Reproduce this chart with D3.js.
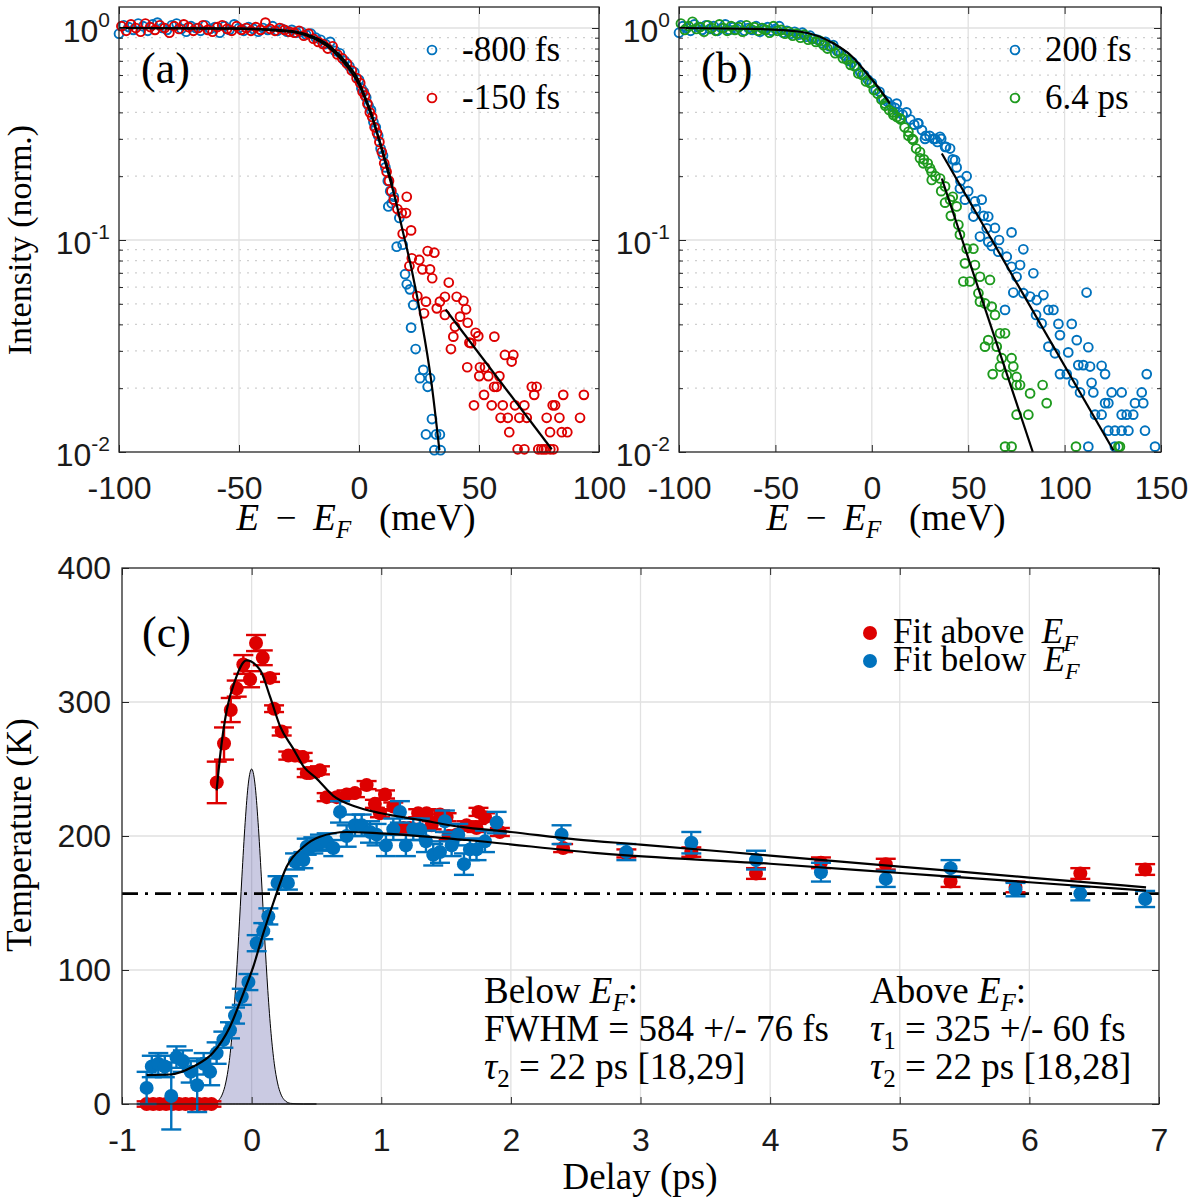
<!DOCTYPE html>
<html>
<head>
<meta charset="utf-8">
<script src="https://cdn.jsdelivr.net/npm/d3@7"></script>
<style>
  body { margin: 0; background: #fff; }
</style>
</head>
<body>
<script>
// ---------- panel (a): E - EF (meV), intensity (norm.) ----------
var a800 = [[-100,0.94],[-98,1.03],[-96,1.01],[-94,0.98],[-92,1.05],[-90,1.02],[-88,0.97],[-86,1.04],[-84,1.06],[-82,1.00],
  [-80,0.98],[-78,1.03],[-76,1.05],[-74,0.99],[-72,0.96],[-70,1.02],[-68,1.00],[-66,0.97],[-64,1.03],[-62,0.99],
  [-60,1.01],[-58,0.95],[-56,1.02],[-54,0.98],[-52,1.04],[-50,1.00],[-48,0.97],[-46,1.01],[-44,0.99],[-42,0.96],
  [-40,1.00],[-38,0.98],[-36,1.02],[-34,0.97],[-32,0.99],[-30,0.96],[-28,0.98],[-26,0.95],[-24,0.96],[-22,0.93],
  [-20,0.94],[-18,0.90],[-16,0.88],[-14,0.84],[-12,0.86],[-10,0.78],[-8,0.76],[-6,0.70],[-4,0.66],[-2,0.62],
  [0,0.57],[1,0.52],[2,0.50],[3,0.47],[4,0.43],[5,0.41],[6,0.36],[7,0.34],[8,0.31],[9,0.27],[10,0.25],[11,0.22],
  [12,0.19],[13,0.17],[14.5,0.16],[12.2,0.144],[13.6,0.149],[16.8,0.127],[15.7,0.093],[18.2,0.095],[19.2,0.069],
  [19.9,0.0618],[21.2,0.0585],[22.6,0.0494],[21.7,0.0386],[23.6,0.0306],[25.4,0.0223],[26.8,0.0244],[29.6,0.0223],
  [28.6,0.0203],[30.4,0.0143],[27.9,0.0121],[32.1,0.0121],[33.7,0.0121],[31.4,0.0102],[34,0.0102]];
var a150 = [[-99,1.02],[-97,0.97],[-95,1.04],[-93,1.00],[-91,0.96],[-89,1.05],[-87,1.01],[-85,0.98],[-83,1.03],[-81,1.00],
  [-79,0.95],[-77,1.02],[-75,0.99],[-73,1.04],[-71,1.01],[-69,0.97],[-67,1.00],[-65,1.03],[-63,0.98],[-61,0.96],
  [-59,1.01],[-57,1.03],[-55,0.99],[-53,0.97],[-51,1.02],[-49,0.98],[-47,1.00],[-45,0.97],[-43,1.01],[-41,0.98],
  [-39,1.06],[-37,0.99],[-35,0.97],[-33,1.00],[-31,0.98],[-29,0.96],[-27,0.95],[-25,0.97],[-23,0.92],[-21,0.94],
  [-19,0.89],[-17,0.86],[-15,0.84],[-13,0.80],[-11,0.82],[-9,0.75],[-7,0.72],[-5,0.68],[-3,0.63],[-1,0.58],
  [0.5,0.55],[1.5,0.50],[2.5,0.48],[3.5,0.44],[4.5,0.40],[5.5,0.38],[6.5,0.34],[7.5,0.32],[8.5,0.29],[9.5,0.26],
  [10.5,0.23],[11.5,0.21],[12.5,0.19],[13.5,0.17],[14.5,0.155],[16,0.14],
  [19.9,0.16],[17.8,0.134],[19.6,0.134],[21.7,0.111],[18.2,0.107],[28.6,0.0887],[31.4,0.0871],[22,0.082],[25.1,0.0805],
  [21,0.0754],[26.4,0.0727],[29.6,0.0727],[30.5,0.066],[37.4,0.063],[24.3,0.0544],[27.9,0.0512],[27.1,0.0451],
  [35.8,0.054],[40.7,0.054],[43.5,0.0517],[33.7,0.0512],[32.4,0.0476],[35.8,0.0443],[44.6,0.0471],[42.1,0.0435],
  [45.3,0.0407],[40,0.039],[48.6,0.0365],[49.7,0.0352],[46,0.0328],[46.7,0.0326],[56.4,0.035],[39.3,0.035],[38.3,0.0306],
  [60.8,0.0287],[64.3,0.0287],[63.6,0.0267],[45.1,0.0251],[50.4,0.0251],[52.5,0.0251],[50.1,0.0228],[53.9,0.0228],
  [58.5,0.0228],[56.3,0.0203],[57.4,0.0203],[72,0.0203],[74,0.0203],[73,0.0186],[52.1,0.0186],[85.1,0.0186],[93.7,0.0186],
  [47.9,0.0166],[55.3,0.0166],[59.9,0.0166],[65,0.0166],[68.9,0.0166],[80.7,0.0166],[81.7,0.0166],
  [59,0.0145],[62,0.0145],[66.8,0.0145],[69.9,0.0145],[78.2,0.0145],[83.5,0.0145],[92.1,0.0145],
  [62.6,0.0124],[79.6,0.0124],[84.5,0.0124],[86.8,0.0124],
  [66.1,0.0103],[68.9,0.0103],[74.7,0.0103],[76,0.0103],[77,0.0103],[78,0.0103],[79.7,0.0103],[81,0.0103]];
var fitA800 = [[-100,1.0],[-50,0.995],[-33,0.978],[-25,0.955],[-19,0.91],[-12,0.82],[-5,0.68],[0,0.56],[2,0.49],[5,0.40],
  [8.7,0.286],[12,0.21],[15,0.158],[18,0.113],[22,0.072],[26,0.042],[30,0.022],[33.5,0.0102]];
var fitA150 = [[-100,1.0],[-50,0.992],[-33,0.97],[-25,0.945],[-19,0.895],[-12,0.80],[-5,0.66],[0,0.54],[5,0.39],[10,0.26],[14,0.18]];
var fitA150tail = [[36.1,0.047],[80.3,0.0103]];

// ---------- panel (b) ----------
var b200 = [[-100,0.95],[-98,1.02],[-96,1.00],[-94,0.97],[-92,1.04],[-90,1.01],[-88,0.98],[-86,1.03],[-84,0.99],[-82,1.02],
  [-80,0.97],[-78,1.00],[-76,1.04],[-74,0.98],[-72,1.01],[-70,0.99],[-68,1.03],[-66,0.97],[-64,1.00],[-62,0.98],
  [-60,1.02],[-58,0.96],[-56,0.99],[-54,1.01],[-52,0.97],[-50,0.99],[-48,1.02],[-46,0.95],[-44,0.97],[-42,0.94],
  [-40,0.96],[-38,0.93],[-36,0.95],[-34,0.91],[-32,0.92],[-30,0.89],[-28,0.88],[-26,0.85],[-24,0.86],[-22,0.82],
  [-20,0.83],[-18,0.78],[-16,0.76],[-14,0.74],[-12,0.70],[-10,0.69],[-8,0.66],[-6,0.62],[-4,0.60],[-2,0.57],
  [0,0.55],[2,0.51],[4,0.50],[6,0.46],[8,0.45],[10,0.43],[12,0.42],[14,0.40],[16,0.39],[18,0.40],[20,0.37],[22,0.35],
  [24,0.355],[26,0.33],[28,0.31],[30,0.31],[32,0.30],[34,0.29],[36,0.30],[38,0.275],
  [12.9,0.44],[24.1,0.355],[27.6,0.30],[32.8,0.30],[35.4,0.307],[38.5,0.275],[40.6,0.27],[43.2,0.238],[49.2,0.20],
  [42,0.24],[44,0.22],[46,0.19],[50,0.17],[54,0.14],[58,0.13],[66,0.10],
  [45.7,0.175],[48.3,0.155],[53.5,0.152],[57,0.155],[52.7,0.129],[60.4,0.129],[59.6,0.1135],[63.9,0.114],[72.5,0.1086],
  [56.1,0.1038],[60.4,0.098],[62.2,0.0937],[65.6,0.088],[70,0.0834],[78.6,0.0904],[72.5,0.0748],[76.9,0.0762],[83.8,0.0697],
  [75.1,0.0671],[73.4,0.0565],[78.6,0.0561],[82.1,0.0541],[89,0.055],[111.4,0.0565],[69.1,0.0468],[85.5,0.0521],[91.6,0.0468],
  [94.2,0.0468],[85.2,0.0443],[88.1,0.0404],[96.8,0.0402],[103.7,0.0402],[97.6,0.0356],[106.3,0.0337],[91.6,0.0314],
  [95,0.0292],[101.9,0.0295],[112.3,0.0312],[107.1,0.0257],[109.7,0.0257],[113.2,0.0253],[119.2,0.0255],[97.6,0.0233],
  [101.1,0.0233],[121,0.0233],[142.6,0.0233],[104.5,0.0212],[114,0.0212],[108,0.0191],[114.9,0.0191],[124.4,0.0191],
  [129.6,0.0191],[140,0.0191],[121,0.017],[122.7,0.017],[136.5,0.017],[140.8,0.017],[119.2,0.015],[129.6,0.015],
  [132.2,0.015],[135.6,0.015],[115.8,0.015],[122.7,0.0126],[126.1,0.0126],[129.6,0.0126],[133.1,0.0126],[141.7,0.0126],
  [112.3,0.0106],[146.9,0.0106],[126.1,0.0106]];
var b6400 = [[-99,1.05],[-97,0.98],[-95,1.02],[-93,1.07],[-91,0.99],[-89,1.01],[-87,0.96],[-85,1.03],[-83,1.00],[-81,0.97],
  [-79,1.04],[-77,1.00],[-75,0.97],[-73,1.02],[-71,0.98],[-69,1.01],[-67,0.96],[-65,1.03],[-63,0.99],[-61,1.01],
  [-59,0.97],[-57,1.00],[-55,0.98],[-53,0.95],[-51,1.02],[-49,0.97],[-47,0.98],[-45,0.94],[-43,0.96],[-41,0.92],
  [-39,0.94],[-37,0.90],[-35,0.93],[-33,0.88],[-31,0.89],[-29,0.86],[-27,0.87],[-25,0.83],[-23,0.80],[-21,0.82],
  [-19,0.76],[-17,0.77],[-15,0.72],[-13,0.71],[-11,0.67],[-9,0.66],[-7,0.61],[-5,0.60],[-3,0.56],[-1,0.55],
  [1,0.51],[3,0.49],[5,0.46],[7,0.43],[9,0.41],[11,0.40],[13,0.38],[15,0.37],[17,0.34],[19,0.31],[21,0.30],
  [23,0.27],[25,0.26],[27,0.24],[29,0.23],[31,0.21],[33,0.20],
  [6.8,0.44],[11.2,0.389],[14.6,0.375],[19,0.324],[21.5,0.296],[25,0.243],[26.7,0.23],[30.2,0.218],[31.1,0.192],
  [35.4,0.195],[38,0.179],[36,0.17],[38,0.15],[41,0.13],[42,0.16],[40.6,0.155],[44,0.144],[44.9,0.118],[45.7,0.106],
  [49.2,0.091],[52.7,0.091],[48.3,0.0776],[53.5,0.0762],[47.5,0.0637],[50.9,0.0637],[56.1,0.0671],[61.3,0.0648],
  [55.3,0.0561],[56.1,0.0512],[58.7,0.0502],[62.2,0.0485],[63.9,0.0443],[66.5,0.0363],[69.1,0.0363],[60.4,0.0337],
  [58.7,0.0314],[64.8,0.0314],[67.4,0.0277],[72.5,0.0277],[66.5,0.0253],[73.4,0.0253],[62.7,0.0233],[70,0.0231],
  [75.1,0.0226],[75.1,0.0207],[76.9,0.0207],[88.6,0.0207],[82.1,0.0189],[90.7,0.017],[75.1,0.015],[81.2,0.015],
  [69.1,0.0106],[72.5,0.0106],[105.9,0.0106],[127.9,0.0106],[128.7,0.0106]];
var fitB = [[-100,1.0],[-60,0.99],[-37,0.96],[-20,0.847],[-10,0.73],[-2.6,0.61],[3,0.53],[9.4,0.44]];
var fitB200tail = [[36.3,0.256],[125.3,0.0102]];
var fitB6400tail = [[36.3,0.195],[83.5,0.01]];

// ---------- panel (c): delay (ps), temperature (K), error (K) ----------
var above = [[-0.81,0,2],[-0.76,0,2],[-0.71,0,2],[-0.66,0,2],[-0.61,0,2],[-0.56,0,2],[-0.51,0,2],[-0.46,0,2],[-0.41,0,2],
  [-0.36,0,2],[-0.31,0,2],
  [-0.269,240,15.5],[-0.213,269,12],[-0.161,294,9],[-0.115,310,6],[-0.064,328,7],[-0.012,317,6],[0.034,344,6],[0.086,333,5.5],
  [0.142,318,3],[0.173,295,2.5],[0.232,278,3],[0.283,260,3],[0.335,260,3],[0.394,259,3],[0.425,247,3],[0.45,247,3],
  [0.527,249,3],[0.579,229,3],[0.656,229,3],[0.733,231,3],[0.797,232,3],[0.887,238,3],[0.951,224,3],[0.99,217,3],
  [1.029,231,3],[1.093,222,3],[1.17,206,3],[1.221,206,3],[1.285,217,3],[1.35,217,3],[1.389,208,3],[1.453,216,3],
  [1.504,214,3],[1.52,200,3],[1.581,201,3],[1.658,208,3],[1.735,206,3],[1.75,218,3],[1.8,214,3],[1.915,203,3],
  [2.403,191,3],[2.891,187,3],[3.392,188,3.5],[3.891,172,4],[4.392,180,4],[4.892,179,4],[5.392,166,4],[5.893,162,4],
  [6.393,172,4],[6.893,175,4]];
var below = [[-0.81,12,12],[-0.77,28,8],[-0.72,30,8],[-0.67,28,8],[-0.62,6,25],[-0.58,35,8],[-0.53,32,8],[-0.47,24,8],
  [-0.42,14,20],[-0.37,30,8],[-0.32,24,10],[-0.27,38,8],[-0.218,48,6],[-0.167,55,6],[-0.128,66,6],[-0.076,80,6],
  [-0.025,91,6],[0.039,120,6],[0.09,129,6],[0.129,140,6],[0.2,165,5],[0.28,165,5],[0.335,181,6],[0.399,182,6],
  [0.425,192,6],[0.476,193,6],[0.527,195,6],[0.579,196,6],[0.63,191,6],[0.682,218,8],[0.733,200,8],[0.797,208,8],
  [0.849,208,8],[0.913,203,8],[0.964,201,8],[1.036,193,8],[1.093,205,8],[1.144,218,8],[1.19,193,8],[1.247,205,8],
  [1.298,205,8],[1.345,196,8],[1.401,186,8],[1.453,188,8],[1.491,211,8],[1.543,193,8],[1.594,201,8],[1.638,179,8],
  [1.684,190,8],[1.735,190,8],[1.8,196,8],[1.89,210,8],[2.391,201,7],[2.891,188,6],[3.392,195,8],[3.891,182,7],
  [4.392,173,7],[4.892,168,6],[5.392,176,6],[5.893,160,5],[6.393,157,5],[6.893,153,6]];
var fitAbove = [[-0.27,234],[-0.244,259],[-0.192,294],[-0.128,316],[-0.04,331],[0.065,324],[0.142,304],[0.219,282],
  [0.322,265],[0.4,252],[0.5,243],[0.63,230],[0.8,222],[1.0,217],[1.3,212],[1.6,207],[2.0,203],[2.5,197.5],[3,193.6],
  [4,185.4],[5,177.2],[6,169],[6.9,161.7]];
var fitBelow = [[-0.81,21.6],[-0.63,22],[-0.45,28],[-0.3,38],[-0.167,57.7],[-0.064,82.6],[0.013,102.5],[0.09,127.4],
  [0.167,150],[0.27,177],[0.4,192],[0.527,199.5],[0.733,203],[0.99,202],[1.66,197],[2.69,187],[4,179.3],[5,172.4],
  [6,165.5],[6.9,159.2]];
var pulse = [[-0.5,0],[-0.4,0],[-0.3,0.5],[-0.25,3.3],[-0.225,7.5],[-0.2,15.7],[-0.175,30],[-0.15,52.7],[-0.125,84.8],
  [-0.1,125],[-0.075,169.5],[-0.05,210],[-0.025,239.5],[0,250],[0.025,239.5],[0.05,210],[0.075,169.5],[0.1,125],
  [0.125,84.8],[0.15,52.7],[0.175,30],[0.2,15.7],[0.225,7.5],[0.25,3.3],[0.3,0.5],[0.4,0],[0.5,0]];
var baseTemp = 157;

var eTicks = [-100, -50, 0, 50, 100];
var eTicksB = [-100, -50, 0, 50, 100, 150];
var delayTicks = [-1, 0, 1, 2, 3, 4, 5, 6, 7];
var tempTicks = [0, 100, 200, 300, 400];

// ---------- drawing ----------
var sans = "'Liberation Sans', Arial, Helvetica, sans-serif";
var serif = "'Liberation Serif', 'Times New Roman', serif";
var ink = "#262626", grid = "#e1e1e1";
var cBlue = "#0072BD", cRed = "#DD0000", cGreen = "#1E9A1E";
var sp = "\u2009";

var svg = d3.select("body").append("svg").attr("width", 1200).attr("height", 1200);

// text with italic / subscript pieces
function rich(sel, parts, sub) {
  parts.forEach(function (p) {
    var t = sel.append("tspan").text(p.t);
    if (p.it) t.attr("font-style", "italic");
    if (p.sub) t.attr("font-size", sub).attr("dy", 8);
    if (p.up) t.attr("dy", -8);
  });
  return sel;
}

function styleAxis(g) {
  g.select(".domain").remove();
  g.selectAll(".tick line").attr("stroke", ink).attr("stroke-width", 1);
  g.selectAll(".tick text").attr("fill", "#1a1a1a").attr("font-family", sans).attr("font-size", 32);
}

function logPanel(cfg) {
  var L = cfg.range[0], R = cfg.range[1], T = 7, B = 452;
  var x = d3.scaleLinear().domain(cfg.domain).range(cfg.range);
  var y = d3.scaleLog().domain([0.01, 1]).range([B, 28]);
  var g = svg.append("g");
  var minors = [];
  [0.01, 0.1].forEach(function (d) { for (var k = 2; k <= 9; k++) minors.push(+(d * k).toPrecision(2)); });

  g.append("g").selectAll("line").data(minors).join("line")
    .attr("x1", L).attr("x2", R).attr("y1", y).attr("y2", y)
    .attr("stroke", "#cfcfcf").attr("stroke-width", 1.3).attr("stroke-dasharray", "2,6");
  g.append("g").selectAll("line").data([0.1, 1]).join("line")
    .attr("x1", L).attr("x2", R).attr("y1", y).attr("y2", y).attr("stroke", grid).attr("stroke-width", 1.3);
  g.append("g").selectAll("line").data(cfg.ticks.slice(1, -1)).join("line")
    .attr("x1", x).attr("x2", x).attr("y1", T).attr("y2", B).attr("stroke", grid).attr("stroke-width", 1.3);

  cfg.series.forEach(function (s) {
    g.append("g").selectAll("circle").data(s.data).join("circle")
      .attr("cx", function (d) { return x(d[0]); })
      .attr("cy", function (d) { return y(d[1]); })
      .attr("r", 4.4).attr("fill", "none").attr("stroke", s.color).attr("stroke-width", 1.9);
  });
  var line = d3.line().x(function (d) { return x(d[0]); }).y(function (d) { return y(d[1]); }).curve(d3.curveMonotoneX);
  cfg.fits.forEach(function (f) {
    g.append("path").attr("d", line(f)).attr("fill", "none").attr("stroke", "#000").attr("stroke-width", 2.2);
  });

  g.append("g").attr("transform", "translate(0," + B + ")")
    .call(d3.axisBottom(x).tickValues(cfg.ticks).tickSize(-7).tickPadding(24).tickFormat(function (d) { return String(d); }))
    .call(styleAxis);
  g.append("g").attr("transform", "translate(0," + T + ")")
    .call(d3.axisTop(x).tickValues(cfg.ticks).tickSize(-7).tickFormat("")).call(styleAxis);
  var yl = g.append("g").attr("transform", "translate(" + L + ",0)")
    .call(d3.axisLeft(y).tickValues([0.01, 0.1, 1]).tickSize(-7).tickPadding(9).tickFormat("")).call(styleAxis);
  yl.selectAll(".tick text").attr("dy", "0.42em").each(function (d) {
    var t = d3.select(this);
    t.append("tspan").text("10");
    t.append("tspan").attr("dy", -15).attr("font-size", 21).text(String(Math.round(Math.log10(d))));
  });
  g.append("g").attr("transform", "translate(" + L + ",0)")
    .call(d3.axisLeft(y).tickValues(minors).tickSize(-4).tickFormat("")).call(styleAxis);
  g.append("g").attr("transform", "translate(" + R + ",0)")
    .call(d3.axisRight(y).tickValues([0.01, 0.1, 1]).tickSize(-7).tickFormat("")).call(styleAxis);
  g.append("g").attr("transform", "translate(" + R + ",0)")
    .call(d3.axisRight(y).tickValues(minors).tickSize(-4).tickFormat("")).call(styleAxis);
  g.append("rect").attr("x", L).attr("y", T).attr("width", R - L).attr("height", B - T)
    .attr("fill", "none").attr("stroke", ink).attr("stroke-width", 1.3);

  // legend
  cfg.series.forEach(function (s, i) {
    var yy = 50 + i * 48;
    g.append("circle").attr("cx", cfg.legendX).attr("cy", yy).attr("r", 4.4)
      .attr("fill", "none").attr("stroke", s.color).attr("stroke-width", 1.9);
    g.append("text").attr("x", cfg.legendX + 30).attr("y", yy + 11)
      .attr("font-family", serif).attr("font-size", 35).attr("fill", "#000").text(s.label);
  });
  g.append("text").attr("x", L + 22).attr("y", 83).attr("font-family", serif).attr("font-size", 44).text(cfg.tag);
  rich(g.append("text").attr("x", cfg.labelX).attr("y", 530).attr("text-anchor", "middle")
    .attr("font-family", serif).attr("font-size", 37),
    [{t: "E", it: true}, {t: sp + " \u2212 " + sp}, {t: "E", it: true}, {t: "F", it: true, sub: true},
     {t: "\u2002 (meV)", up: true}], 25);
}

logPanel({
  domain: [-100, 100], range: [119, 599], ticks: eTicks, tag: "(a)", legendX: 432, labelX: 356,
  series: [{data: a800, color: cBlue, label: "-800 fs"}, {data: a150, color: cRed, label: "-150 fs"}],
  fits: [fitA800, fitA150, fitA150tail]
});
logPanel({
  domain: [-100, 150], range: [679, 1161], ticks: eTicksB, tag: "(b)", legendX: 1015, labelX: 886,
  series: [{data: b200, color: cBlue, label: "200 fs"}, {data: b6400, color: cGreen, label: "6.4 ps"}],
  fits: [fitB, fitB200tail, fitB6400tail]
});

svg.append("text").attr("transform", "translate(31,240) rotate(-90)").attr("text-anchor", "middle")
  .attr("font-family", serif).attr("font-size", 34).text("Intensity (norm.)");

// ---------- panel (c) ----------
(function () {
  var L = 122, R = 1159, T = 568, B = 1104;
  var x = d3.scaleLinear().domain([-1, 7]).range([L, R]);
  var y = d3.scaleLinear().domain([0, 400]).range([B, T]);
  var g = svg.append("g");

  g.append("g").selectAll("line").data(delayTicks.slice(1, -1)).join("line")
    .attr("x1", x).attr("x2", x).attr("y1", T).attr("y2", B).attr("stroke", grid).attr("stroke-width", 1.3);
  g.append("g").selectAll("line").data(tempTicks.slice(1, -1)).join("line")
    .attr("x1", L).attr("x2", R).attr("y1", y).attr("y2", y).attr("stroke", grid).attr("stroke-width", 1.3);

  var area = d3.area().x(function (d) { return x(d[0]); }).y0(y(0)).y1(function (d) { return y(d[1]); })
    .curve(d3.curveMonotoneX);
  g.append("path").attr("d", area(pulse)).attr("fill", "rgb(80,80,160)").attr("fill-opacity", 0.3)
    .attr("stroke", "#000").attr("stroke-width", 1);

  g.append("line").attr("x1", L).attr("x2", R).attr("y1", y(baseTemp)).attr("y2", y(baseTemp))
    .attr("stroke", "#000").attr("stroke-width", 2.6).attr("stroke-dasharray", "16,7,3,7");

  function errSeries(data, color) {
    var s = g.append("g");
    var e = s.selectAll("g").data(data).join("g").attr("stroke", color).attr("stroke-width", 2.4);
    e.append("line").attr("x1", function (d) { return x(d[0]); }).attr("x2", function (d) { return x(d[0]); })
      .attr("y1", function (d) { return y(d[1] - d[2]); }).attr("y2", function (d) { return y(d[1] + d[2]); });
    e.append("line").attr("x1", function (d) { return x(d[0]) - 10; }).attr("x2", function (d) { return x(d[0]) + 10; })
      .attr("y1", function (d) { return y(d[1] - d[2]); }).attr("y2", function (d) { return y(d[1] - d[2]); });
    e.append("line").attr("x1", function (d) { return x(d[0]) - 10; }).attr("x2", function (d) { return x(d[0]) + 10; })
      .attr("y1", function (d) { return y(d[1] + d[2]); }).attr("y2", function (d) { return y(d[1] + d[2]); });
    s.selectAll("circle").data(data).join("circle")
      .attr("cx", function (d) { return x(d[0]); }).attr("cy", function (d) { return y(d[1]); })
      .attr("r", 7).attr("fill", color);
  }
  errSeries(above, cRed);
  errSeries(below, cBlue);

  var line = d3.line().x(function (d) { return x(d[0]); }).y(function (d) { return y(d[1]); }).curve(d3.curveMonotoneX);
  [fitAbove, fitBelow].forEach(function (f) {
    g.append("path").attr("d", line(f)).attr("fill", "none").attr("stroke", "#000").attr("stroke-width", 2.2);
  });

  g.append("g").attr("transform", "translate(0," + B + ")")
    .call(d3.axisBottom(x).tickValues(delayTicks).tickSize(-7).tickPadding(24).tickFormat(function (d) { return String(d); }))
    .call(styleAxis);
  g.append("g").attr("transform", "translate(0," + T + ")")
    .call(d3.axisTop(x).tickValues(delayTicks).tickSize(-7).tickFormat("")).call(styleAxis);
  g.append("g").attr("transform", "translate(" + L + ",0)")
    .call(d3.axisLeft(y).tickValues(tempTicks).tickSize(-7).tickPadding(11).tickFormat(function (d) { return String(d); }))
    .call(styleAxis);
  g.append("g").attr("transform", "translate(" + R + ",0)")
    .call(d3.axisRight(y).tickValues(tempTicks).tickSize(-7).tickFormat("")).call(styleAxis);
  g.append("rect").attr("x", L).attr("y", T).attr("width", R - L).attr("height", B - T)
    .attr("fill", "none").attr("stroke", ink).attr("stroke-width", 1.3);

  g.append("text").attr("x", 142).attr("y", 647).attr("font-family", serif).attr("font-size", 44).text("(c)");

  [["Fit above\u2002", cRed, 633], ["Fit below\u2002", cBlue, 661]].forEach(function (l) {
    g.append("circle").attr("cx", 870).attr("cy", l[2]).attr("r", 7).attr("fill", l[1]);
    rich(g.append("text").attr("x", 893).attr("y", l[2] + 10).attr("font-family", serif).attr("font-size", 35),
      [{t: l[0]}, {t: "E", it: true}, {t: "F", it: true, sub: true}], 24);
  });

  var notes = [
    [484, 1003, [{t: "Below "}, {t: "E", it: true}, {t: "F", it: true, sub: true}, {t: ":", up: true}]],
    [484, 1041, [{t: "FWHM = 584 +/- 76 fs"}]],
    [484, 1079, [{t: "\u03c4", it: true}, {t: "2", sub: true}, {t: " = 22 ps [18,29]", up: true}]],
    [870, 1003, [{t: "Above "}, {t: "E", it: true}, {t: "F", it: true, sub: true}, {t: ":", up: true}]],
    [870, 1041, [{t: "\u03c4", it: true}, {t: "1", sub: true}, {t: " = 325 +/- 60 fs", up: true}]],
    [870, 1079, [{t: "\u03c4", it: true}, {t: "2", sub: true}, {t: " = 22 ps [18,28]", up: true}]]
  ];
  notes.forEach(function (n) {
    rich(g.append("text").attr("x", n[0]).attr("y", n[1]).attr("font-family", serif).attr("font-size", 37), n[2], 25);
  });

  svg.append("text").attr("transform", "translate(31,835) rotate(-90)").attr("text-anchor", "middle")
    .attr("font-family", serif).attr("font-size", 35).text("Temperature (K)");
  svg.append("text").attr("x", 640).attr("y", 1189).attr("text-anchor", "middle")
    .attr("font-family", serif).attr("font-size", 37).text("Delay (ps)");
})();
</script>
</body>
</html>
